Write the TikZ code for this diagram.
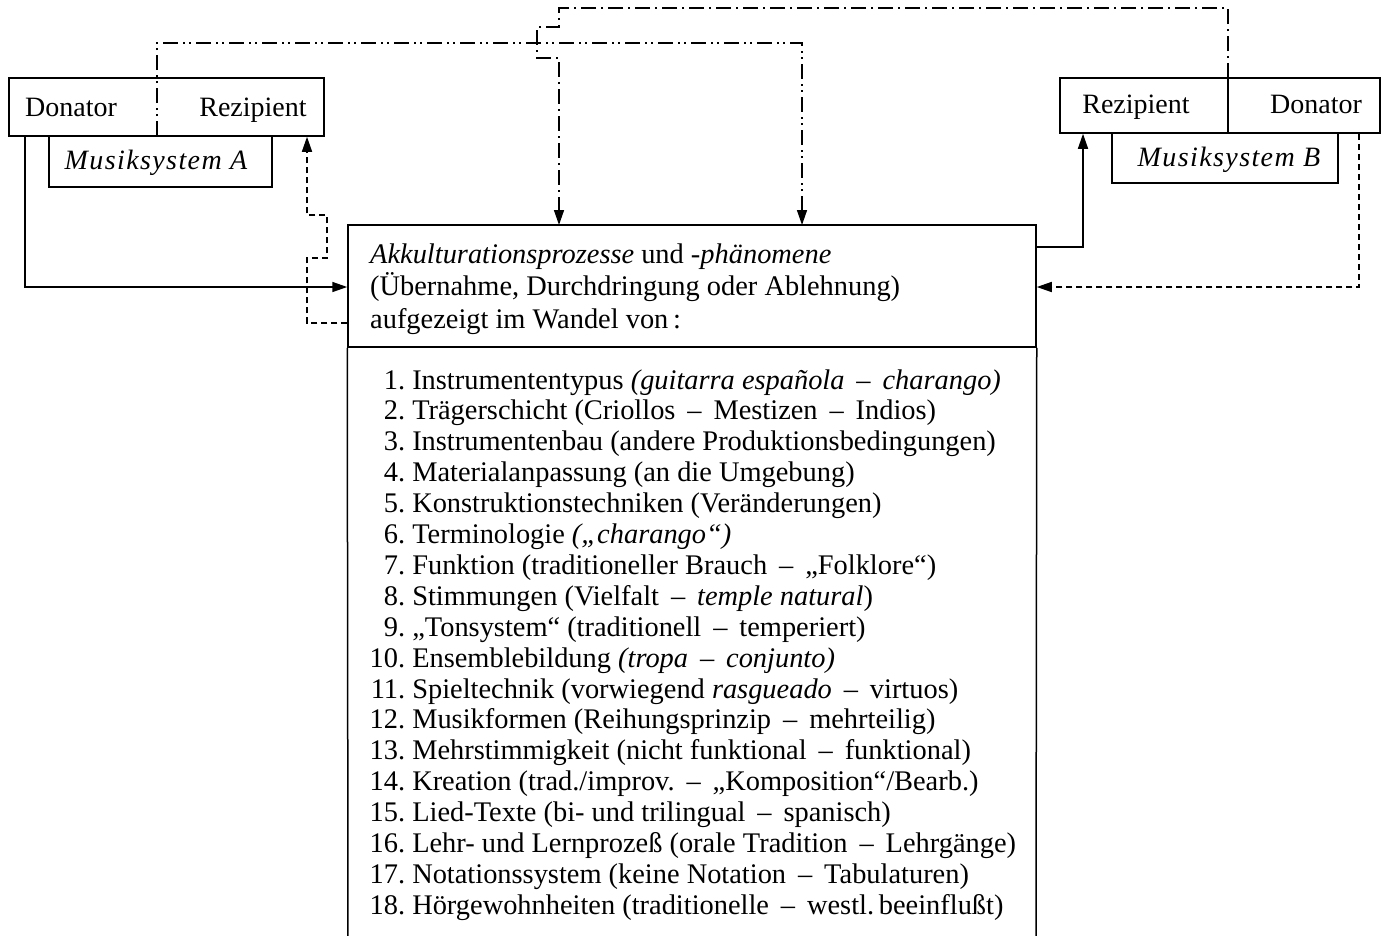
\documentclass[tikz,border=0pt]{standalone}
\usepackage{fontspec}
\setmainfont{Liberation Serif}
\usetikzlibrary{arrows.meta}
\newcommand{\dd}{\hspace{0.42em}--\hspace{0.42em}}
\newcommand{\msys}[1]{{\itshape\addfontfeatures{LetterSpace=5}#1}}
\begin{document}
\begin{tikzpicture}[x=1pt,y=-1pt,
  every node/.style={font=\fontsize{28}{32}\selectfont},
  frame/.style={draw,line width=1.5pt,inner sep=0pt},
  lbl/.style={anchor=base,inner sep=0pt},
  item/.style={anchor=base west,inner sep=0pt,font=\fontsize{28.4}{32}\selectfont},
  conn/.style={line width=1.5pt},
  tip/.style={-{Triangle[length=15pt,width=10pt]}},
  dashdot/.style={conn,dash pattern=on 15pt off 5pt on 2pt off 5pt},
  dashdotdot/.style={conn,dash pattern=on 15pt off 5pt on 2pt off 4pt on 2pt off 5pt},
  dashline/.style={conn,dash pattern=on 6pt off 4pt}]
\useasboundingbox (0,0) rectangle (1387,935);

% frames
\node[frame,minimum width=315pt,minimum height=58pt] (A) at (166.5,107) {};
\node[frame,minimum width=223pt,minimum height=51pt] (MA) at (160.5,161.5) {};
\node[frame,minimum width=320pt,minimum height=55pt] (B) at (1220,105.5) {};
\node[frame,minimum width=226pt,minimum height=50pt] (MB) at (1225,158) {};
\node[frame,minimum width=688pt,minimum height=122pt] (H) at (692,286) {};
\coordinate (Lbot) at (348,940);
\coordinate (Rbot) at (1036,940);
\draw[line width=1.5pt] (H.south west) -- (Lbot);
\draw[line width=1.5pt] (H.south east) -- (Rbot);

% box labels
\node[lbl] (tAd) at (71,116) {Donator};
\node[lbl] (tAr) at (253,116) {Rezipient};
\node[lbl] (tMA) at (156,169) {\msys{Musiksystem A}};
\node[lbl] (tBr) at (1136,113) {Rezipient};
\node[lbl] (tBd) at (1316,113) {Donator};
\node[lbl] (tMB) at (1229,166) {\msys{Musiksystem B}};

% header text
\node[item] (h1) at (370,263) {\textit{Akkulturationsprozesse} und \textit{-phänomene}};
\node[item] (h2) at (370,295) {(Übernahme, Durchdringung oder Ablehnung)};
\node[item] (h3) at (370,328) {aufgezeigt im Wandel von\,:};

% list
\newcommand{\num}[1]{\makebox[35pt][r]{#1}\ }
\node[item] (l1)  at (370,389.0) {\num{1.}Instrumententypus \textit{(guitarra española\dd charango)}};
\node[item] (l2)  at (370,419.9) {\num{2.}Trägerschicht (Criollos\dd Mestizen\dd Indios)};
\node[item] (l3)  at (370,450.8) {\num{3.}Instrumentenbau (andere Produktionsbedingungen)};
\node[item] (l4)  at (370,481.7) {\num{4.}Materialanpassung (an die Umgebung)};
\node[item] (l5)  at (370,512.6) {\num{5.}Konstruktionstechniken (Veränderungen)};
\node[item] (l6)  at (370,543.5) {\num{6.}Terminologie \textit{(„charango“)}};
\node[item] (l7)  at (370,574.4) {\num{7.}Funktion (traditioneller Brauch\dd „Folklore“)};
\node[item] (l8)  at (370,605.3) {\num{8.}Stimmungen (Vielfalt\dd \textit{temple natural})};
\node[item] (l9)  at (370,636.2) {\num{9.}„Tonsystem“ (traditionell\dd temperiert)};
\node[item] (l10) at (370,667.1) {\num{10.}Ensemblebildung \textit{(tropa\dd conjunto)}};
\node[item] (l11) at (370,698.0) {\num{11.}Spieltechnik (vorwiegend \textit{rasgueado}\dd virtuos)};
\node[item] (l12) at (370,728.9) {\num{12.}Musikformen (Reihungsprinzip\dd mehrteilig)};
\node[item] (l13) at (370,759.8) {\num{13.}Mehrstimmigkeit (nicht funktional\dd funktional)};
\node[item] (l14) at (370,790.7) {\num{14.}Kreation (trad./improv.\dd „Komposition“/Bearb.)};
\node[item] (l15) at (370,821.6) {\num{15.}Lied-Texte (bi- und trilingual\dd spanisch)};
\node[item] (l16) at (370,852.5) {\num{16.}Lehr- und Lernprozeß (orale Tradition\dd Lehrgänge)};
\node[item] (l17) at (370,883.4) {\num{17.}Notationssystem (keine Notation\dd Tabulaturen)};
\node[item] (l18) at (370,914.3) {\num{18.}Hörgewohnheiten (traditionelle\dd westl.\,beeinflußt)};

% connector coordinates
\coordinate (Adiv) at (157,136);
\coordinate (Bdivt) at (1228,78);
\coordinate (Bdivb) at (1228,133);
\coordinate (Hin1) at (559,225);
\coordinate (Hin2) at (802,225);

% divider in B (solid)
\draw[line width=1.5pt] (Bdivt) -- (Bdivb);

% A -> H (dash dot dot), divider of A included
\draw[dashdotdot,tip] (Adiv) |- (Hin2 |- 0,43) -- (Hin2);
% B -> H (dash dot) with bridge
\draw[dashdot,tip] (Bdivt) |- (Hin1 |- 0,8) -- (Hin1 |- 0,27) -- (537,27) -- (537,58) -- (Hin1 |- 0,58) -- (Hin1);

% A Donator -> H (solid)
\draw[conn,tip] (A.south west -| 25,0) |- (H.west |- 0,287);
% H -> A Rezipient (dashed)
\draw[dashline,tip] (H.west |- 0,323) -| (307,258) -| (327,215) -| (A.south east -| 307,0);
% H -> B Rezipient (solid)
\draw[conn,tip] (H.east |- 0,247) -| (B.south west -| 1083,0);
% B Donator -> H (dashed)
\draw[dashline,tip] (B.south east -| 1359,0) |- (H.east |- 0,287);
\end{tikzpicture}
\end{document}
